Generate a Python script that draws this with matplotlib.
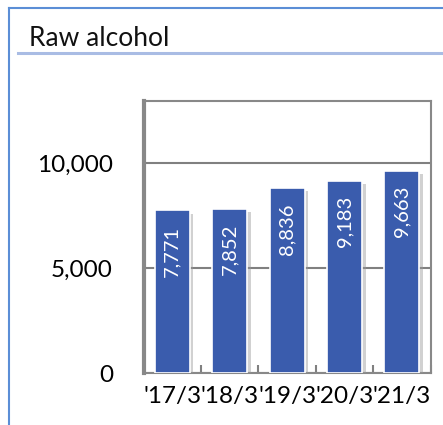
import matplotlib.pyplot as plt
import matplotlib.patheffects as pe
from matplotlib.lines import Line2D
import numpy as np

periods = ["'17/3", "'18/3", "'19/3", "'20/3", "'21/3"]
volumes = [7771, 7852, 8836, 9183, 9663]
y_ticks = [0, 5000, 10000]

plt.rcParams['font.family'] = ['Lato', 'DejaVu Sans']

fig = plt.figure(figsize=(4.43, 4.25), dpi=100)

# outer frame and title underline
fig.add_artist(Line2D([9/443, 9/443], [0, 1 - 8/425], color='#5B8ED6', lw=1.5))
fig.add_artist(Line2D([9/443, 1], [1 - 8/425, 1 - 8/425], color='#5B8ED6', lw=1.5))
fig.add_artist(Line2D([18/443, 1], [1 - 52.5/425, 1 - 52.5/425], color='#A9BCE4', lw=2.2))
fig.text(29/443, 1 - 45.5/425, "Raw alcohol", fontsize=19, ha='left', va='baseline', color='#111111')

ax = fig.add_axes([143.5/443, 1 - 373.3/425, (430.7 - 143.5)/443, (373.3 - 100.5)/425])

x = np.arange(len(periods))
bars = ax.bar(x, volumes, width=0.61, color='#3A5CAD', edgecolor='white', linewidth=1.2, zorder=3)
for b in bars:
    b.set_path_effects([pe.SimplePatchShadow(offset=(2.5, -2.5), shadow_rgbFace='#999999', alpha=0.45), pe.Normal()])

for xi, v in zip(x, volumes):
    ax.annotate(f"{v:,}", (xi, v), xytext=(0, -11), textcoords='offset points',
                rotation=90, ha='center', va='top', color='white', fontsize=14.5, zorder=4)

ax.set_xlim(-0.5, len(periods) - 0.5)
ax.set_ylim(0, 13000)
ax.set_yticks(y_ticks)
ax.set_yticklabels([f"{t:,}" for t in y_ticks], fontsize=17.5)
ax.set_xticks(x)
ax.set_xticklabels(periods, fontsize=17.5)
ax.set_xticks(np.arange(len(periods) + 1) - 0.5, minor=True)
ax.tick_params(axis='x', which='major', length=0, pad=9)
ax.tick_params(axis='x', which='minor', direction='in', length=6, width=1.5, color='#808080')
ax.tick_params(axis='y', length=0, pad=22)

ax.grid(axis='y', color='#808080', lw=1.5, zorder=1)
for s in ['top', 'right', 'bottom']:
    ax.spines[s].set_color('#888888')
    ax.spines[s].set_linewidth(1.5)
ax.spines['left'].set_color('#888888')
ax.spines['left'].set_linewidth(3)

fig.savefig('out.png', dpi=100)
